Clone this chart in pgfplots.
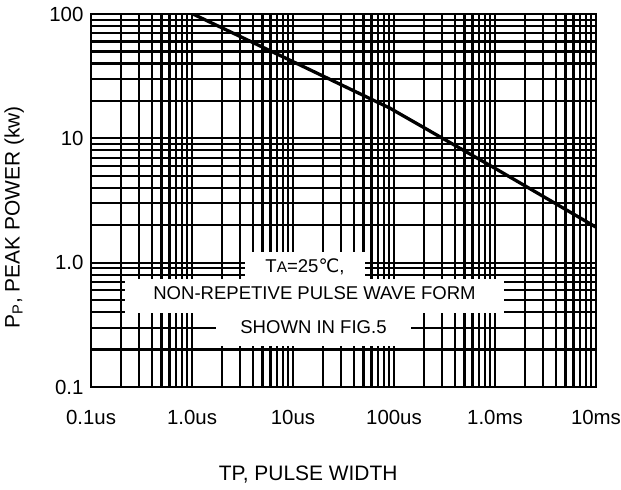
\documentclass[border=0pt]{standalone}
\usepackage{fontspec}
\setmainfont{Liberation Sans}
\newfontfamily\dejavu{DejaVu Sans}
\usepackage{pgfplots}
\pgfplotsset{compat=1.18}

\begin{document}
\begin{tikzpicture}
\path[use as bounding box] (-91bp,-103bp) rectangle (530bp,387bp);
\begin{axis}[
  scale only axis,
  width=505bp, height=373bp,
  xmode=log, ymode=log,
  xmin=1e-7, xmax=1e-2, ymin=0.1, ymax=100,
  xtick={1e-7,1e-6,1e-5,1e-4,1e-3,1e-2},
  xticklabels={0.1us,1.0us,10us,100us,1.0ms,10ms},
  ytick={0.1,1,10,100},
  yticklabels={0.1,1.0,10,100},
  grid=both,
  major grid style={black, line width=2.3pt},
  minor grid style={black, line width=2.2pt},
  axis line style={black, line width=2.3pt},
  major tick length=0pt, minor tick length=0pt,
  tick label style={font=\fontsize{20.5}{24}\selectfont},
  xticklabel style={yshift=-20bp},
  yticklabel style={xshift=-4bp},
  xlabel={TP, PULSE WIDTH},
  ylabel={P\textsubscript{P}, PEAK POWER (kw)},
  label style={font=\fontsize{21}{25}\selectfont},
  xlabel style={at={(axis description cs:0.43,-0.236)}, anchor=center},
  ylabel style={at={(axis description cs:-0.152,0.455)}, anchor=center},
]
% white patches behind the note
\fill[white] (axis cs:3.35e-6,0.738) rectangle (axis cs:5.16e-5,1.22);
\fill[white] (axis cs:2.17e-7,0.393) rectangle (axis cs:1.23e-3,0.738);
\fill[white] (axis cs:1.73e-6,0.212) rectangle (axis cs:1.47e-4,0.393);

\node[font=\fontsize{18.6}{22}\selectfont] at (axis cs:1.315e-5,0.922)
  {T{\fontsize{15.5}{18}\selectfont A}=25{\dejavu ℃},};
\node[font=\fontsize{18.6}{22}\selectfont] at (axis cs:1.633e-5,0.569)
  {NON-REPETIVE PULSE WAVE FORM};
\node[font=\fontsize{18.6}{22}\selectfont] at (axis cs:1.595e-5,0.303)
  {SHOWN IN FIG.5};

\addplot[black, line width=3.3pt] coordinates {
  (1.02e-6,100) (1e-5,41.4) (9.1e-5,17.5) (1e-3,5.74) (1e-2,1.93)
};
\end{axis}
\end{tikzpicture}
\end{document}
